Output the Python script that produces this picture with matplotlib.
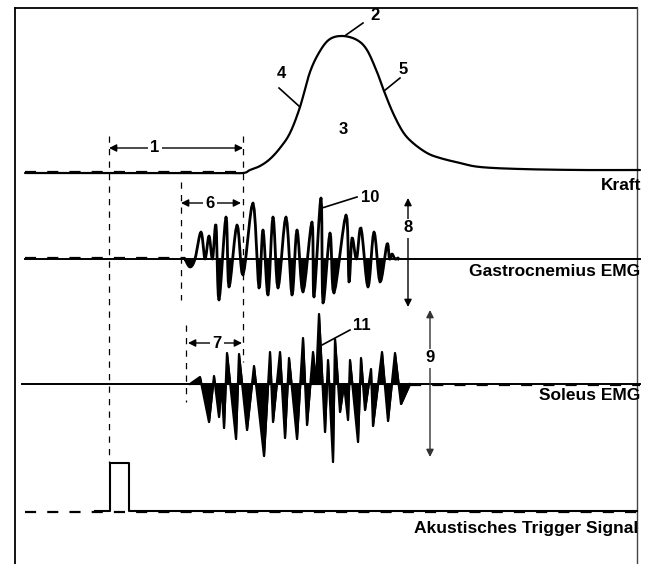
import numpy as np
import matplotlib
matplotlib.use("Agg")
import matplotlib.pyplot as plt

# ---------------- data (time in px-units, amplitude upward from each baseline) ----
force_t = [25, 150, 220, 243, 250, 260, 270, 280, 290, 300, 310, 320, 330, 343, 357, 367,
           377, 384, 393, 403, 413, 427, 440, 460, 480, 520, 580, 640]
force_v = [0, 0, 0, 0, 3, 7, 14, 25, 40, 66, 101, 122, 134, 137, 133, 123,
           101, 82, 60, 41, 30, 20, 15, 10, 6, 4, 3, 3]

gastro_t = [185, 190, 195, 201, 209, 216, 219, 226, 229, 237, 243, 253, 259, 263,
            268, 273, 278, 286, 292, 297, 303, 312, 314, 321, 323, 330, 334,
            346, 349, 352, 361, 368, 374, 380, 387, 392, 398]
gastro_a = [0, -8, 0, 27, 23, 34, -41, 42, -28, 34, -16, 56, -29, 29,
            -36, 42, -29, 42, -36, 29, -33, 37, -38, 61, -44, 26, -34,
            44, -23, 21, 31, -28, 27, -23, 15, 5, 1]

soleus_t = [190, 200, 209, 214, 219, 224, 227, 236, 239, 247, 254, 264, 270, 273,
            280, 285, 289, 297, 303, 307, 313, 319, 325, 328, 333, 335, 340,
            348, 350, 358, 361, 365, 371, 373, 382, 388, 395, 401, 410]
soleus_a = [0, 7, -38, 8, -33, -44, 31, -55, 30, -46, 18, -72, 32, -38,
            32, -54, 26, -55, 46, -41, 32, 70, -48, 24, -78, 45, -28,
            -36, 24, -58, 26, -26, 15, -42, 32, -37, 31, -20, 0]

trigger_t = [95, 110, 110, 129, 129, 637]
trigger_v = [0, 0, 48, 48, 0, 0]

trace_labels = ["Kraft", "Gastrocnemius EMG", "Soleus EMG", "Akustisches Trigger Signal"]
number_labels = ["1", "2", "3", "4", "5", "6", "7", "8", "9", "10", "11"]

# ---------------- layout ----------------
KRAFT_Y, GASTRO_Y, SOLEUS_Y, TRIG_Y = 173, 259, 384, 511
FONT = ["Liberation Sans", "DejaVu Sans"]


def catmull(xs, ys, n=14):
    pts = np.column_stack([xs, ys]).astype(float)
    out = []
    for i in range(len(pts) - 1):
        p0 = pts[max(i - 1, 0)]
        p1 = pts[i]
        p2 = pts[i + 1]
        p3 = pts[min(i + 2, len(pts) - 1)]
        for t in np.linspace(0, 1, n, endpoint=False):
            t2, t3 = t * t, t * t * t
            out.append(0.5 * ((2 * p1) + (-p0 + p2) * t +
                              (2 * p0 - 5 * p1 + 4 * p2 - p3) * t2 +
                              (-p0 + 3 * p1 - 3 * p2 + p3) * t3))
    out.append(pts[-1])
    out = np.array(out)
    return out[:, 0], out[:, 1]


def zigzag(ts, amps):
    xs, ys = [ts[0]], [0.0]
    for i, (t, a) in enumerate(zip(ts, amps)):
        if i > 0 and amps[i - 1] * a > 0:
            xs.append(0.5 * (ts[i - 1] + t))
            ys.append(0.0)
        xs.append(t)
        ys.append(a)
    xs.append(ts[-1])
    ys.append(0.0)
    return np.array(xs, float), np.array(ys, float)


fig = plt.figure(figsize=(6.52, 5.64), dpi=100)
ax = fig.add_axes([0, 0, 1, 1])
ax.set_xlim(0, 652)
ax.set_ylim(564, 0)
ax.axis("off")

# frame
ax.plot([15, 15], [564, 8], color="black", lw=1.3)
ax.plot([15, 637], [8, 8], color="black", lw=1.3)
ax.plot([637, 637], [8, 564], color="#444444", lw=1.0)

dash = dict(color="black", lw=1.6, dashes=(5, 5))
vdash = dict(color="black", lw=0.9, dashes=(5, 5))

# Kraft
fx, fy = catmull(force_t, force_v)
ax.plot(fx, KRAFT_Y - fy, color="black", lw=1.6, solid_capstyle="round")
ax.plot([25, 243], [KRAFT_Y - 1.5, KRAFT_Y - 1.5], **dash)

# Gastrocnemius EMG
ax.plot([25, 640], [GASTRO_Y, GASTRO_Y], color="black", lw=1.4)
ax.plot([25, 185], [GASTRO_Y - 1, GASTRO_Y - 1], **dash)
gx, gy = zigzag(gastro_t, gastro_a)
gx, gy = catmull(gx, gy, n=6)
neg = np.minimum(gy, 0)
ax.fill_between(gx, GASTRO_Y - neg, GASTRO_Y, color="black", lw=0)
ax.plot(gx, GASTRO_Y - gy, color="black", lw=2.0, solid_joinstyle="round")

# Soleus EMG
ax.plot([22, 640], [SOLEUS_Y, SOLEUS_Y], color="black", lw=1.4)
ax.plot([410, 640], [SOLEUS_Y + 1, SOLEUS_Y + 1], **dash)
sx, sy = zigzag(soleus_t, soleus_a)
ax.fill_between(sx, SOLEUS_Y - sy, SOLEUS_Y, color="black", lw=0.8)
ax.plot(sx, SOLEUS_Y - sy, color="black", lw=1.6, solid_joinstyle="round")

# Trigger
ax.plot([25, 637], [TRIG_Y + 1, TRIG_Y + 1], **dash)
ax.plot(trigger_t, [TRIG_Y - v for v in trigger_v], color="black", lw=1.5)

# vertical dashed markers
for x, y0, y1 in [(109, 136, 463), (243, 136, 362), (181, 182, 300), (186, 325, 402)]:
    ax.plot([x, x], [y0, y1], **vdash)

# labels of traces
label_pos = [(641, 185), (640, 272), (640, 396), (638, 529)]
for txt, (x, y) in zip(trace_labels, label_pos):
    ax.text(x, y, txt, ha="right", va="center", fontsize=12.5,
            fontweight="bold", family=FONT)

# dimension arrows
arrow_kw = dict(arrowstyle="<|-|>", mutation_scale=11, lw=1.0, color="black",
                shrinkA=0, shrinkB=0)
num_kw = dict(ha="center", va="center", fontsize=12, fontweight="bold", family=FONT,
              bbox=dict(facecolor="white", edgecolor="none", pad=1.5))

horiz = [("1", 109, 243, 148, 155), ("6", 181, 241, 203, 210), ("7", 188, 242, 343, 217)]
for lab, x0, x1, y, xt in horiz:
    ax.annotate("", xy=(x0, y), xytext=(x1, y), arrowprops=arrow_kw)
    ax.text(xt, y, lab, **num_kw)

vert = [("8", 408, 198, 307, 228, "black"), ("9", 430, 310, 457, 358, "#333333")]
for lab, x, y0, y1, yt, c in vert:
    kw = dict(arrow_kw)
    kw["color"] = c
    ax.annotate("", xy=(x, y0), xytext=(x, y1), arrowprops=kw)
    ax.text(x, yt, lab, **num_kw)

# leader labels
leaders = [("2", (346, 35), (363, 23), (375, 16)),
           ("4", (300, 107), (279, 88), (281, 74)),
           ("5", (384, 91), (400, 78), (403, 70)),
           ("10", (322, 208), (357, 197), (370, 197)),
           ("11", (322, 345), (350, 330), (362, 326))]
for lab, p0, p1, pt in leaders:
    ax.plot([p0[0], p1[0]], [p0[1], p1[1]], color="black", lw=1.2)
    ax.text(pt[0], pt[1], lab, ha="center", va="center", fontsize=12,
            fontweight="bold", family=FONT)
ax.text(343, 130, "3", ha="center", va="center", fontsize=12,
        fontweight="bold", family=FONT)

fig.savefig("out.png", dpi=100)
